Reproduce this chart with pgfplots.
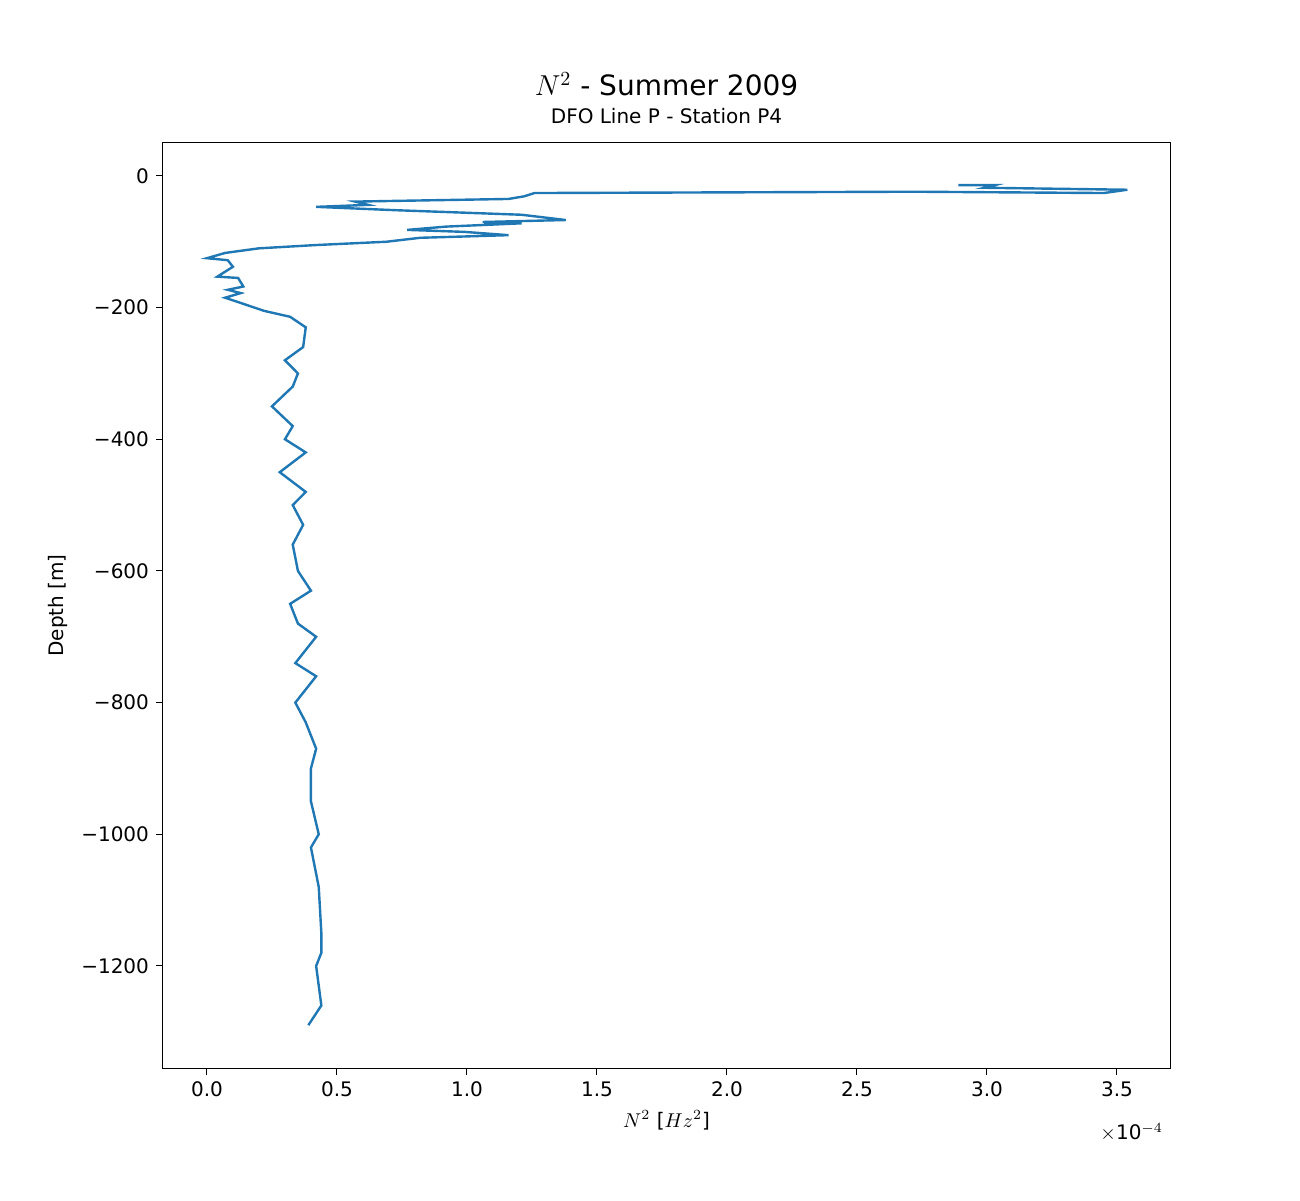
\documentclass[border=0pt]{standalone}
\usepackage{pgfplots}
\pgfplotsset{compat=1.18}
\usepackage{fontspec}
\setmainfont{DejaVu Sans}
\setsansfont{DejaVu Sans}
\definecolor{mplblue}{HTML}{1F77B4}
\begin{document}
\begin{tikzpicture}
\begin{axis}[
  scale only axis, width=503.5pt, height=462.5pt,
  xmin=-0.169, xmax=3.704, ymin=-1355, ymax=50,
  xtick={0,0.5,1,1.5,2,2.5,3,3.5}, xticklabels={0.0,0.5,1.0,1.5,2.0,2.5,3.0,3.5},
  ytick={-1200,-1000,-800,-600,-400,-200,0},
  yticklabels={−1200,−1000,−800,−600,−400,−200,0},
  tick label style={font=\fontsize{10}{12}\selectfont},
  tick align=outside, tick style={black, line width=0.5pt}, major tick length=3.5pt,
  xtick pos=bottom, ytick pos=left,
  axis line style={line width=0.5pt},
  xlabel={$N^2$ [$Hz^2$]}, ylabel={Depth [m]},
  label style={font=\fontsize{10}{12}\selectfont},
  title style={align=center},
  title={{\fontsize{14}{16}\selectfont $N^2$ - Summer 2009}\\[2pt]{\fontsize{10}{12}\selectfont DFO Line P - Station P4}},
]
\addplot[mplblue, line width=1.2pt] coordinates {
(2.89,-14)(3.03,-14)(2.99,-18)(3.54,-21)(3.45,-26)(2.72,-24)(1.26,-26)(1.22,-31)(1.16,-35)
(0.57,-39)(0.62,-44)(0.42,-47)(0.72,-52)(1.21,-59)(1.38,-67)(1.06,-70)(1.21,-72)(0.92,-77)
(0.77,-82)(0.99,-85)(1.16,-90)(0.82,-94)(0.69,-100)(0.42,-105)(0.20,-110)(0.07,-117)
(0.0,-125)(0.08,-128)(0.10,-138)(0.04,-153)(0.12,-155)(0.14,-168)(0.08,-173)(0.13,-178)
(0.07,-185)(0.13,-193)(0.22,-205)(0.32,-214)(0.38,-230)(0.37,-260)(0.30,-280)(0.35,-300)
(0.33,-320)(0.25,-350)(0.33,-380)(0.30,-400)(0.38,-420)(0.28,-450)(0.38,-480)(0.33,-500)
(0.37,-530)(0.33,-560)(0.35,-600)(0.40,-630)(0.32,-650)(0.35,-680)(0.42,-700)(0.34,-740)
(0.42,-760)(0.34,-800)(0.38,-830)(0.42,-870)(0.40,-900)(0.40,-950)(0.43,-1000)(0.40,-1020)
(0.43,-1080)(0.44,-1150)(0.44,-1180)(0.42,-1200)(0.44,-1260)(0.39,-1290)
};
\end{axis}
\node[anchor=north east, font=\fontsize{10}{12}\selectfont] at ([yshift=-24pt]current axis.south east) {$\times$10$^{-4}$};
\path[use as bounding box] ([xshift=-81.5pt,yshift=-66pt]current axis.south west) rectangle ([xshift=65pt,yshift=71.5pt]current axis.north east);
\end{tikzpicture}
\end{document}
